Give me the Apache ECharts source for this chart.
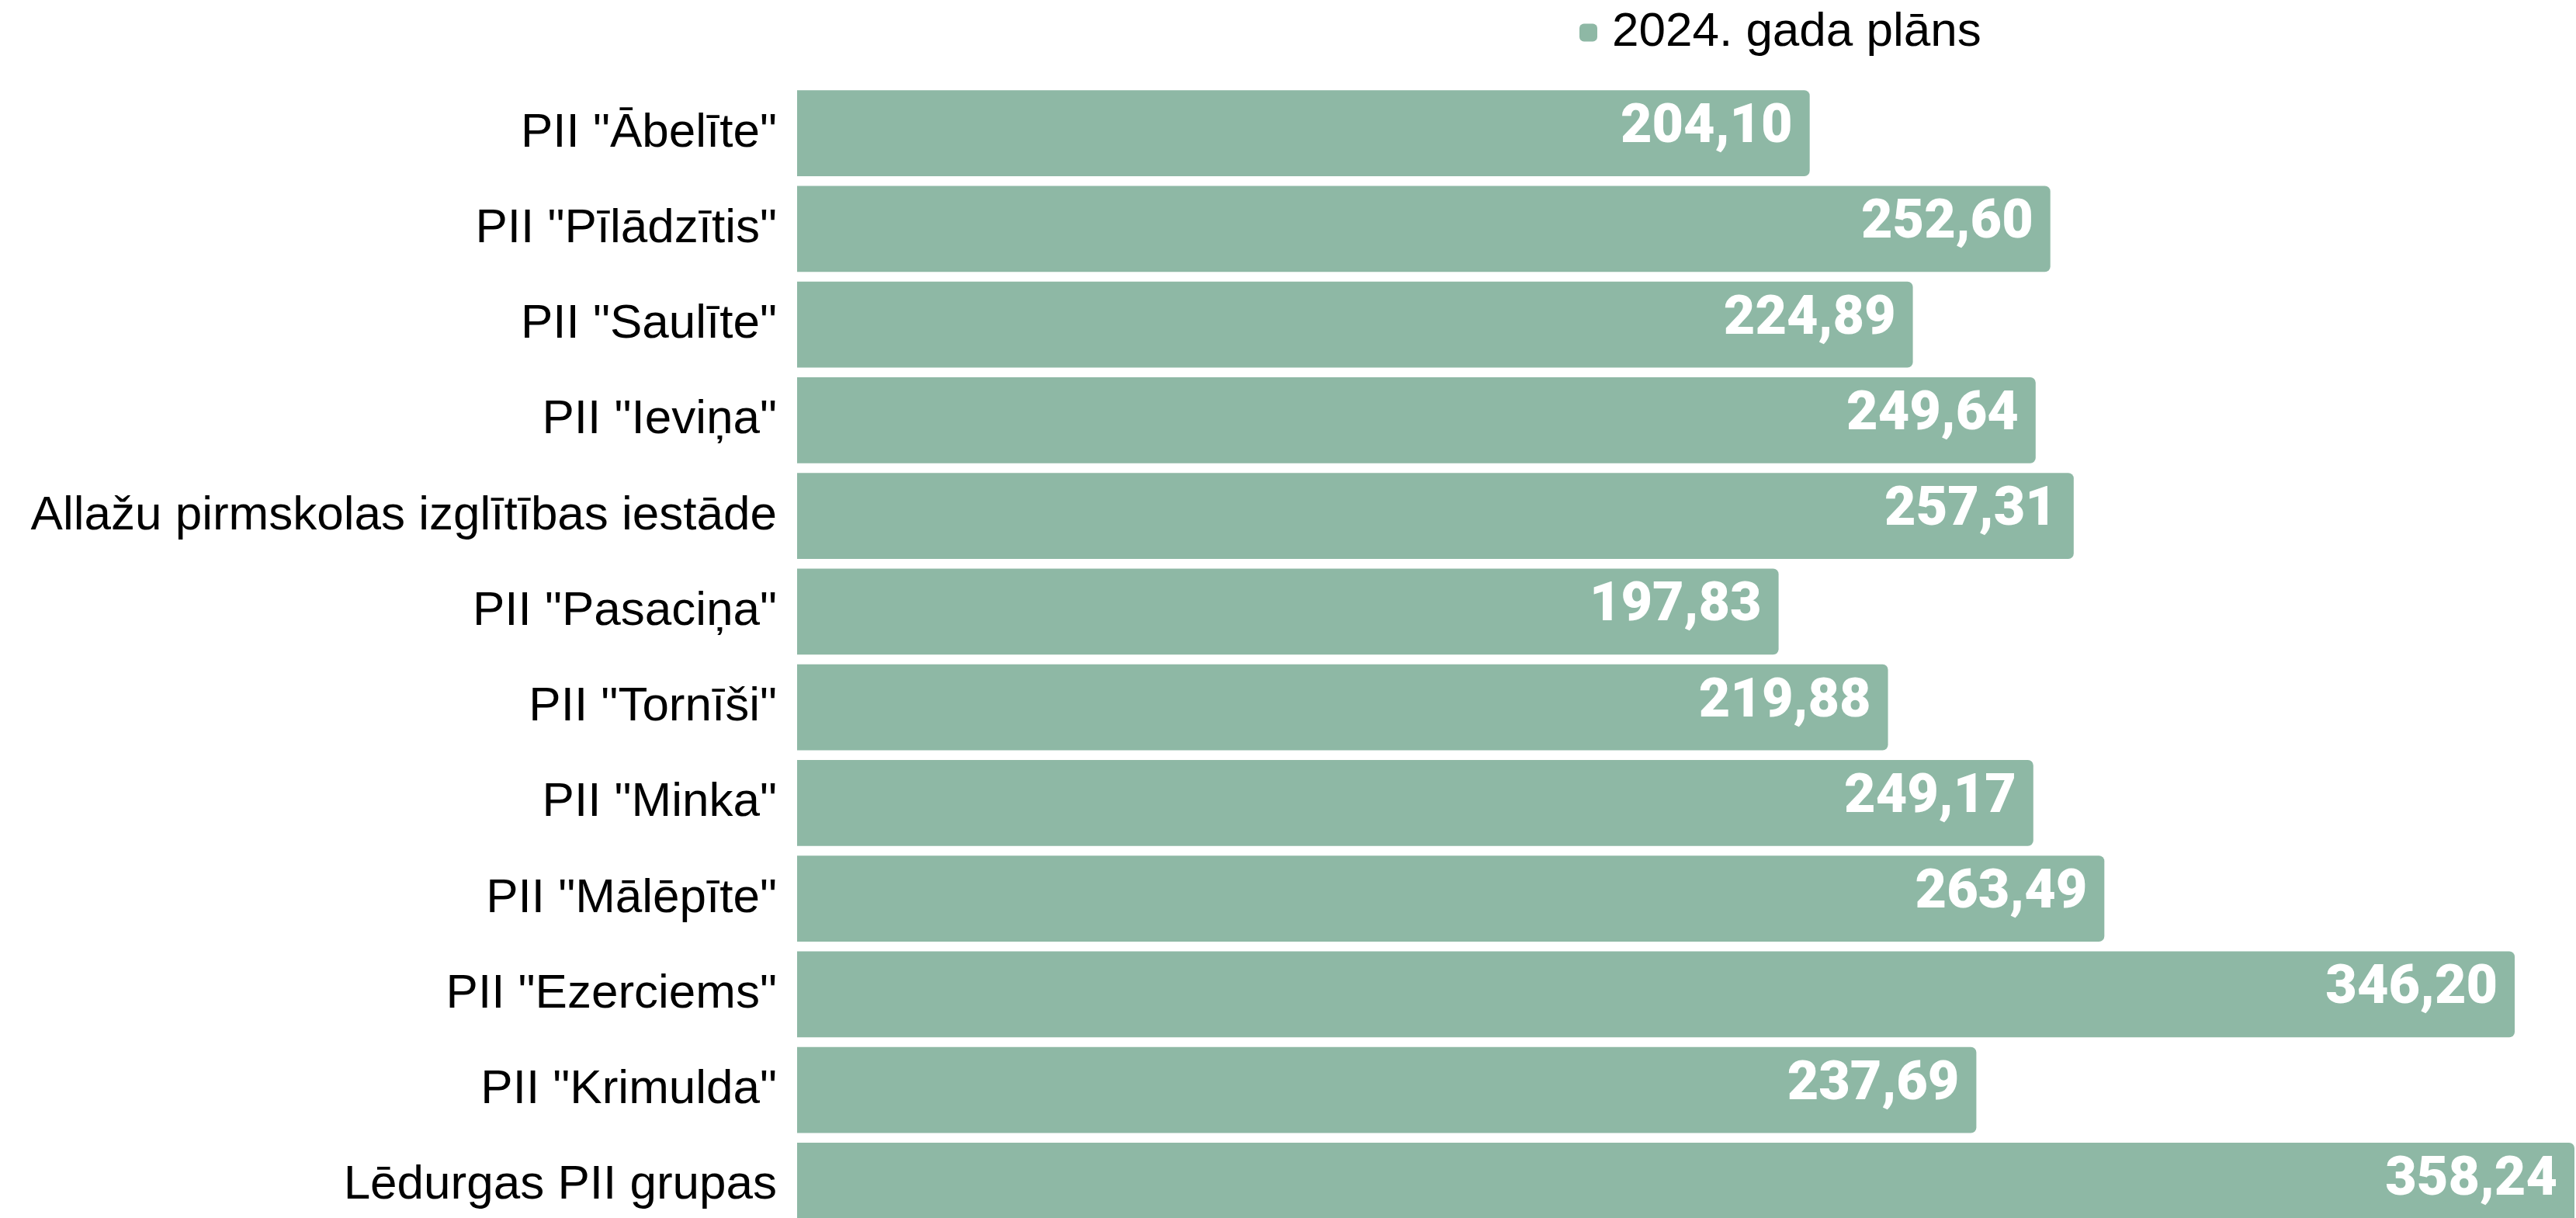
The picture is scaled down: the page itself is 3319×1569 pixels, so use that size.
<!DOCTYPE html>
<html>
<head>
<meta charset="utf-8">
<script src="https://cdn.jsdelivr.net/npm/echarts@6/dist/echarts.min.js"></script>
<style>
html,body{margin:0;padding:0;background:#fff;overflow:hidden;}
#chart{width:3319px;height:1600px;}
</style>
</head>
<body>
<div id="chart"></div>
<script>
var categories = [
  'PII "Ābelīte"',
  'PII "Pīlādzītis"',
  'PII "Saulīte"',
  'PII "Ieviņa"',
  'Allažu pirmskolas izglītības iestāde',
  'PII "Pasaciņa"',
  'PII "Tornīši"',
  'PII "Minka"',
  'PII "Mālēpīte"',
  'PII "Ezerciems"',
  'PII "Krimulda"',
  'Lēdurgas PII grupas'
];
var seriesName = '2024. gada plāns';
var values = [204.10, 252.60, 224.89, 249.64, 257.31, 197.83, 219.88, 249.17, 263.49, 346.20, 237.69, 358.24];

var chart = echarts.init(document.getElementById('chart'), null, {renderer: 'canvas'});
chart.setOption({
  animation: false,
  backgroundColor: '#ffffff',
  legend: {
    data: [seriesName],
    top: 6,
    left: 2030,
    icon: 'roundRect',
    itemWidth: 23,
    itemHeight: 23,
    textStyle: {
      fontFamily: 'Liberation Sans',
      fontSize: 62,
      color: '#000000',
      padding: [0, 0, 0, 14]
    }
  },
  grid: {
    left: 1027,
    right: 2,
    top: 110,
    height: 1479,
    containLabel: false
  },
  xAxis: {
    type: 'value',
    min: 0,
    max: 'dataMax',
    show: false
  },
  yAxis: {
    type: 'category',
    data: categories,
    inverse: true,
    axisLine: {show: false},
    axisTick: {show: false},
    axisLabel: {
      margin: 26,
      fontFamily: 'Liberation Sans',
      fontSize: 62,
      color: '#000000'
    }
  },
  series: [{
    name: seriesName,
    type: 'bar',
    data: values,
    barCategoryGap: '10%',
    itemStyle: {
      color: '#8eb8a5',
      borderRadius: [0, 7, 7, 0]
    },
    label: {
      show: true,
      position: 'insideRight',
      distance: 22,
      offset: [0, -6],
      color: '#ffffff',
      fontFamily: 'Roboto',
      fontWeight: 900,
      fontSize: 70,
      formatter: function (p) { return p.value.toFixed(2).replace('.', ','); }
    }
  }]
});
</script>
</body>
</html>
